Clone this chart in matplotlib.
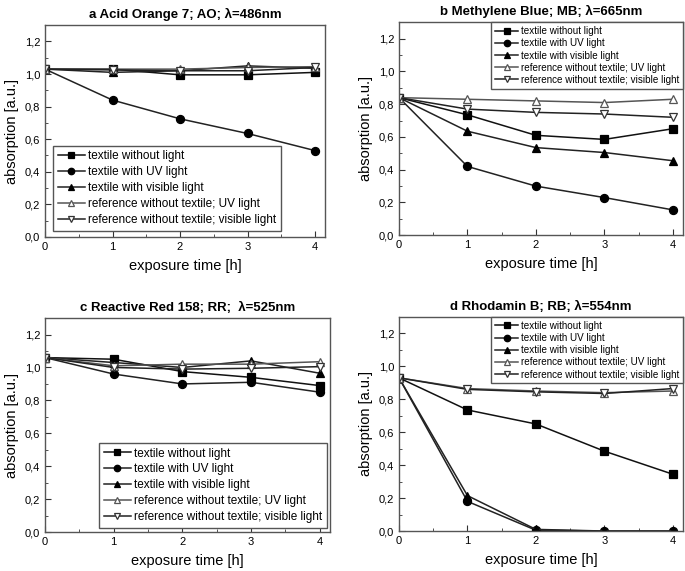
import matplotlib
matplotlib.use("Agg")
import matplotlib.pyplot as plt
from matplotlib.ticker import MultipleLocator, FuncFormatter

hours = [0, 1, 2, 3, 4]
labels = ["textile without light", "textile with UV light", "textile with visible light",
          "reference without textile; UV light", "reference without textile; visible light"]

panel_letters = ["a", "b", "c", "d"]
titles = ["Acid Orange 7; AO; λ=486nm", "Methylene Blue; MB; λ=665nm",
          "Reactive Red 158; RR;  λ=525nm", "Rhodamin B; RB; λ=554nm"]

a_square = [1.03, 1.03, 0.995, 0.995, 1.01]
a_circle = [1.03, 0.84, 0.725, 0.635, 0.53]
a_tri = [1.03, 1.01, 1.02, 1.05, 1.035]
a_open_up = [1.03, 1.03, 1.03, 1.04, 1.045]
a_open_down = [1.03, 1.025, 1.02, 1.02, 1.04]

b_square = [0.84, 0.735, 0.61, 0.585, 0.65]
b_circle = [0.84, 0.42, 0.30, 0.23, 0.155]
b_tri = [0.84, 0.635, 0.535, 0.505, 0.455]
b_open_up = [0.84, 0.83, 0.82, 0.81, 0.83]
b_open_down = [0.84, 0.77, 0.75, 0.74, 0.72]

c_square = [1.06, 1.05, 0.975, 0.94, 0.89]
c_circle = [1.06, 0.96, 0.90, 0.91, 0.85]
c_tri = [1.06, 1.03, 1.0, 1.04, 0.965]
c_open_up = [1.06, 1.01, 1.02, 1.02, 1.035]
c_open_down = [1.06, 1.0, 0.99, 0.995, 1.005]

d_square = [0.93, 0.735, 0.65, 0.485, 0.345]
d_circle = [0.93, 0.18, 0.005, 0.0, 0.0]
d_tri = [0.93, 0.215, 0.01, 0.0, 0.0]
d_open_up = [0.93, 0.865, 0.85, 0.84, 0.85]
d_open_down = [0.93, 0.86, 0.845, 0.835, 0.865]

panels = [
    [a_square, a_circle, a_tri, a_open_up, a_open_down],
    [b_square, b_circle, b_tri, b_open_up, b_open_down],
    [c_square, c_circle, c_tri, c_open_up, c_open_down],
    [d_square, d_circle, d_tri, d_open_up, d_open_down],
]

styles = [
    dict(marker="s", mfc="black", mec="black"),
    dict(marker="o", mfc="black", mec="black"),
    dict(marker="^", mfc="black", mec="black"),
    dict(marker="^", mfc="white", mec="#555555"),
    dict(marker="v", mfc="white", mec="#333333"),
]
line_colors = ["#111111", "#222222", "#222222", "#555555", "#222222"]

positions = [
    [0.0657, 0.585, 0.409, 0.371],
    [0.5825, 0.588, 0.4146, 0.373],
    [0.0657, 0.068, 0.416, 0.375],
    [0.5825, 0.070, 0.4146, 0.375],
]
legend_cfg = [
    dict(loc="lower left", fontsize=8.5, bbox=(0.028, 0.03), ls=0.33),
    dict(loc="upper right", fontsize=7.1, bbox=(1.0, 1.0), ls=0.22),
    dict(loc="lower right", fontsize=8.5, bbox=(0.99, 0.02), ls=0.33),
    dict(loc="upper right", fontsize=7.1, bbox=(1.0, 1.0), ls=0.22),
]

plt.rcParams["font.family"] = ["Liberation Sans", "DejaVu Sans"]
fig = plt.figure(figsize=(6.85, 5.71), dpi=100)
fmt = FuncFormatter(lambda v, p: f"{v:.1f}".replace(".", ","))

for i, series in enumerate(panels):
    ax = fig.add_axes(positions[i])
    for s, st, lab, lc in zip(series, styles, labels, line_colors):
        ax.plot(hours, s, color=lc, lw=1.1, ms=5.8, mew=0.9, label=lab, **st)
    ax.set_xlim(0, 4.15)
    ax.set_ylim(0, 1.3)
    ax.xaxis.set_major_locator(MultipleLocator(1))
    ax.xaxis.set_minor_locator(MultipleLocator(0.5))
    ax.yaxis.set_major_locator(MultipleLocator(0.2))
    ax.yaxis.set_minor_locator(MultipleLocator(0.1))
    ax.yaxis.set_major_formatter(fmt)
    ax.tick_params(direction="in", which="both", labelsize=8, color="#333333")
    ax.tick_params(which="major", length=4)
    ax.tick_params(which="minor", length=2)
    for sp in ax.spines.values():
        sp.set_color("#555555")
        sp.set_linewidth(1.0)
    ax.set_xlabel("exposure time [h]", fontsize=10.5, labelpad=5)
    ax.set_ylabel("absorption [a.u.]", fontsize=10.5, labelpad=4)
    ax.set_title(panel_letters[i] + " " + titles[i],
                 fontsize=9.5, fontweight="bold", pad=5)
    lc_ = legend_cfg[i]
    leg = ax.legend(loc=lc_["loc"], bbox_to_anchor=lc_["bbox"], fontsize=lc_["fontsize"],
                    fancybox=False, edgecolor="#555555", framealpha=1,
                    handlelength=2.3, handletextpad=0.3, labelspacing=lc_["ls"],
                    borderpad=0.4, borderaxespad=0.0, markerscale=0.8)
    leg.get_frame().set_linewidth(1.0)

fig.savefig("out.png", dpi=100)
